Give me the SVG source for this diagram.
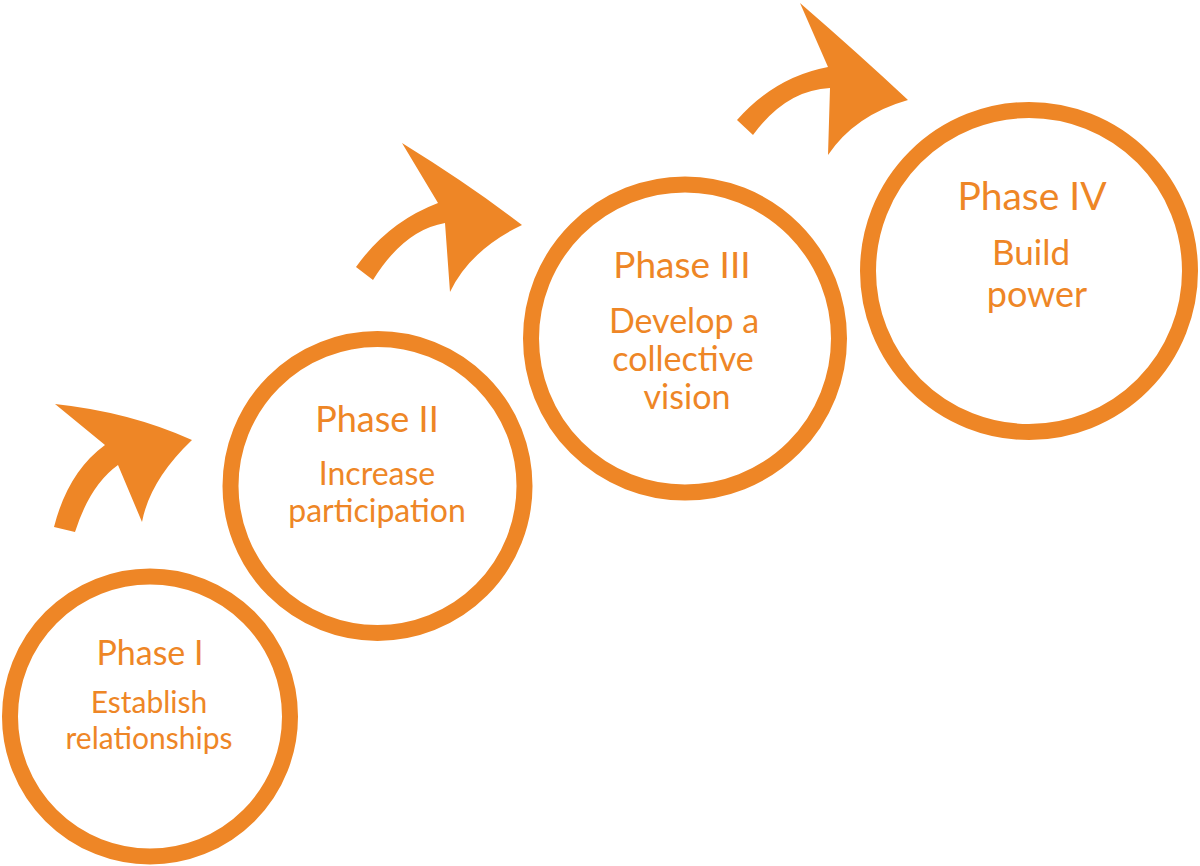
<svg xmlns="http://www.w3.org/2000/svg" width="1200" height="866" viewBox="0 0 1200 866">
<style>
.ring{fill:none;stroke:#EE8626;stroke-width:16}
.arrow{fill:#EE8626}
text{font-family:Lato,"Open Sans","DejaVu Sans",sans-serif;fill:#EE8626;text-anchor:middle}
</style>
<rect width="1200" height="866" fill="#ffffff"/>
<g id="connectors">
<path class="arrow" d="M54,527 Q68,472 105,445 L55,404 Q130,412 192,440 Q150,480 142,522 L118,465 Q90,485 75,532 Z"/>
<path class="arrow" d="M356,267 Q388,222 438,203 L402,143 Q470,185 522,225 Q470,250 450,292 L445,223 Q404,230 373,280 Z"/>
<path class="arrow" d="M737,120 Q775,77 828,67 L800,3 Q860,55 908,100 Q855,115 828,155 L830,88 Q786,90 753,135 Z"/>
</g>
<g id="phase1">
<circle class="ring" cx="150" cy="716.5" r="140"/>
<text x="150" y="665" font-size="34">Phase I</text>
<text x="149" y="713" font-size="30">Establish</text>
<text x="149" y="749" font-size="30">relationships</text>
</g>
<g id="phase2">
<circle class="ring" cx="377.5" cy="486" r="147"/>
<text x="377" y="432" font-size="36">Phase II</text>
<text x="377" y="485" font-size="32">Increase</text>
<text x="377" y="522" font-size="32">participation</text>
</g>
<g id="phase3">
<circle class="ring" cx="685" cy="338.5" r="154"/>
<text x="682" y="278" font-size="37">Phase III</text>
<text x="684" y="333" font-size="34">Develop a</text>
<text x="683" y="371" font-size="34">collective</text>
<text x="687" y="409" font-size="34">vision</text>
</g>
<g id="phase4">
<circle class="ring" cx="1029" cy="271" r="161"/>
<text x="1032" y="210" font-size="39">Phase IV</text>
<text x="1031" y="265" font-size="35">Build</text>
<text x="1037" y="307" font-size="36">power</text>
</g>
</svg>
